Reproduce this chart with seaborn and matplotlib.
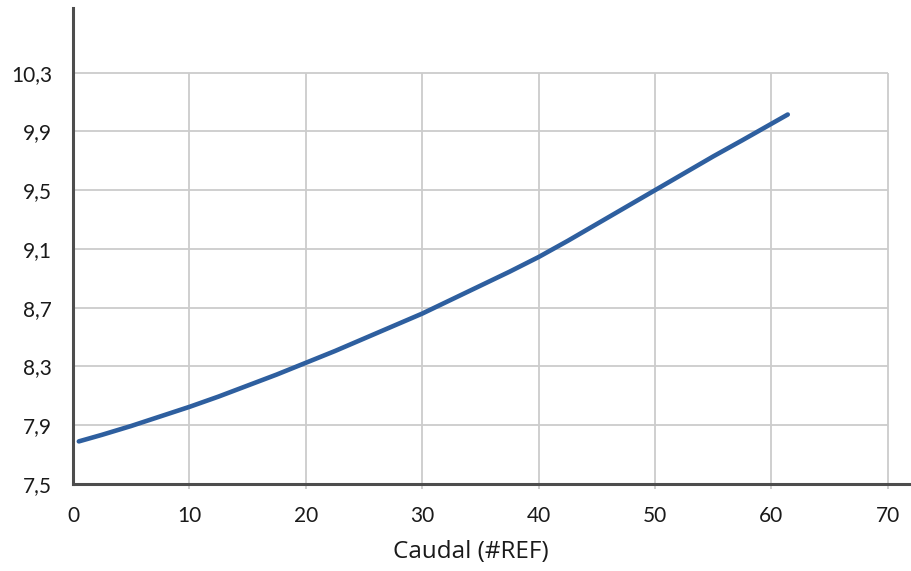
import matplotlib
matplotlib.use("Agg")
import matplotlib.pyplot as plt
import seaborn as sns
import pandas as pd

# Curve readings: flow vs. value
caudal = [0.5, 2.5, 5, 7.5, 10, 12.5, 15, 17.5, 20, 22.5, 25, 27.5, 30,
          32.5, 35, 37.5, 40, 42.5, 45, 47.5, 50, 52.5, 55, 57.5, 61.4]
valor = [7.79, 7.835, 7.895, 7.96, 8.025, 8.095, 8.17, 8.245, 8.325, 8.405,
         8.49, 8.575, 8.66, 8.755, 8.85, 8.945, 9.045, 9.155, 9.27, 9.385,
         9.50, 9.615, 9.73, 9.84, 10.015]

x_ticks = [0, 10, 20, 30, 40, 50, 60, 70]
y_ticks = [7.5, 7.9, 8.3, 8.7, 9.1, 9.5, 9.9, 10.3]
y_tick_labels = ["7,5", "7,9", "8,3", "8,7", "9,1", "9,5", "9,9", "10,3"]
x_label = "Caudal (#REF)"

sns.set_style("white")
plt.rcParams["font.family"] = ["Lato", "DejaVu Sans"]

df = pd.DataFrame({"caudal": caudal, "valor": valor})

fig = plt.figure(figsize=(9.11, 5.71), dpi=100)
ax = fig.add_axes([73 / 911, 1 - 484 / 571, (910 - 73) / 911, (484 - 8) / 571])

grid_color = "#cccccc"
# grid confined to the tick range
ax.hlines(y_ticks[1:], x_ticks[0], x_ticks[-1], color=grid_color, lw=1.3, zorder=1)
ax.vlines(x_ticks[1:], y_ticks[0] - 0.035, y_ticks[-1], color=grid_color, lw=1.3,
          zorder=1, clip_on=False)

sns.lineplot(data=df, x="caudal", y="valor", ax=ax, color="#2e5f9f", lw=3.3,
             solid_capstyle="round", solid_joinstyle="round", zorder=3)

ax.set_xlim(0, 71.9)
ax.set_ylim(7.5, 10.74)
ax.set_xticks(x_ticks)
ax.set_xticklabels([str(t) for t in x_ticks])
ax.set_yticks(y_ticks)
ax.set_yticklabels(y_tick_labels)
ax.tick_params(axis="both", length=0, labelsize=15, labelcolor="#1a1a1a")
ax.tick_params(axis="x", pad=16)
ax.tick_params(axis="y", pad=15)

for side in ("top", "right"):
    ax.spines[side].set_visible(False)
for side in ("left", "bottom"):
    ax.spines[side].set_color("#4d4d4d")
    ax.spines[side].set_linewidth(2.2)
    ax.spines[side].set_zorder(4)

ax.set_xlabel(x_label, fontsize=17.5, family=["Open Sans", "DejaVu Sans"], color="#1a1a1a")
ax.set_ylabel("")
ax.xaxis.set_label_coords((471 - 73) / 837, -0.118)

fig.savefig("out.png", dpi=100)
